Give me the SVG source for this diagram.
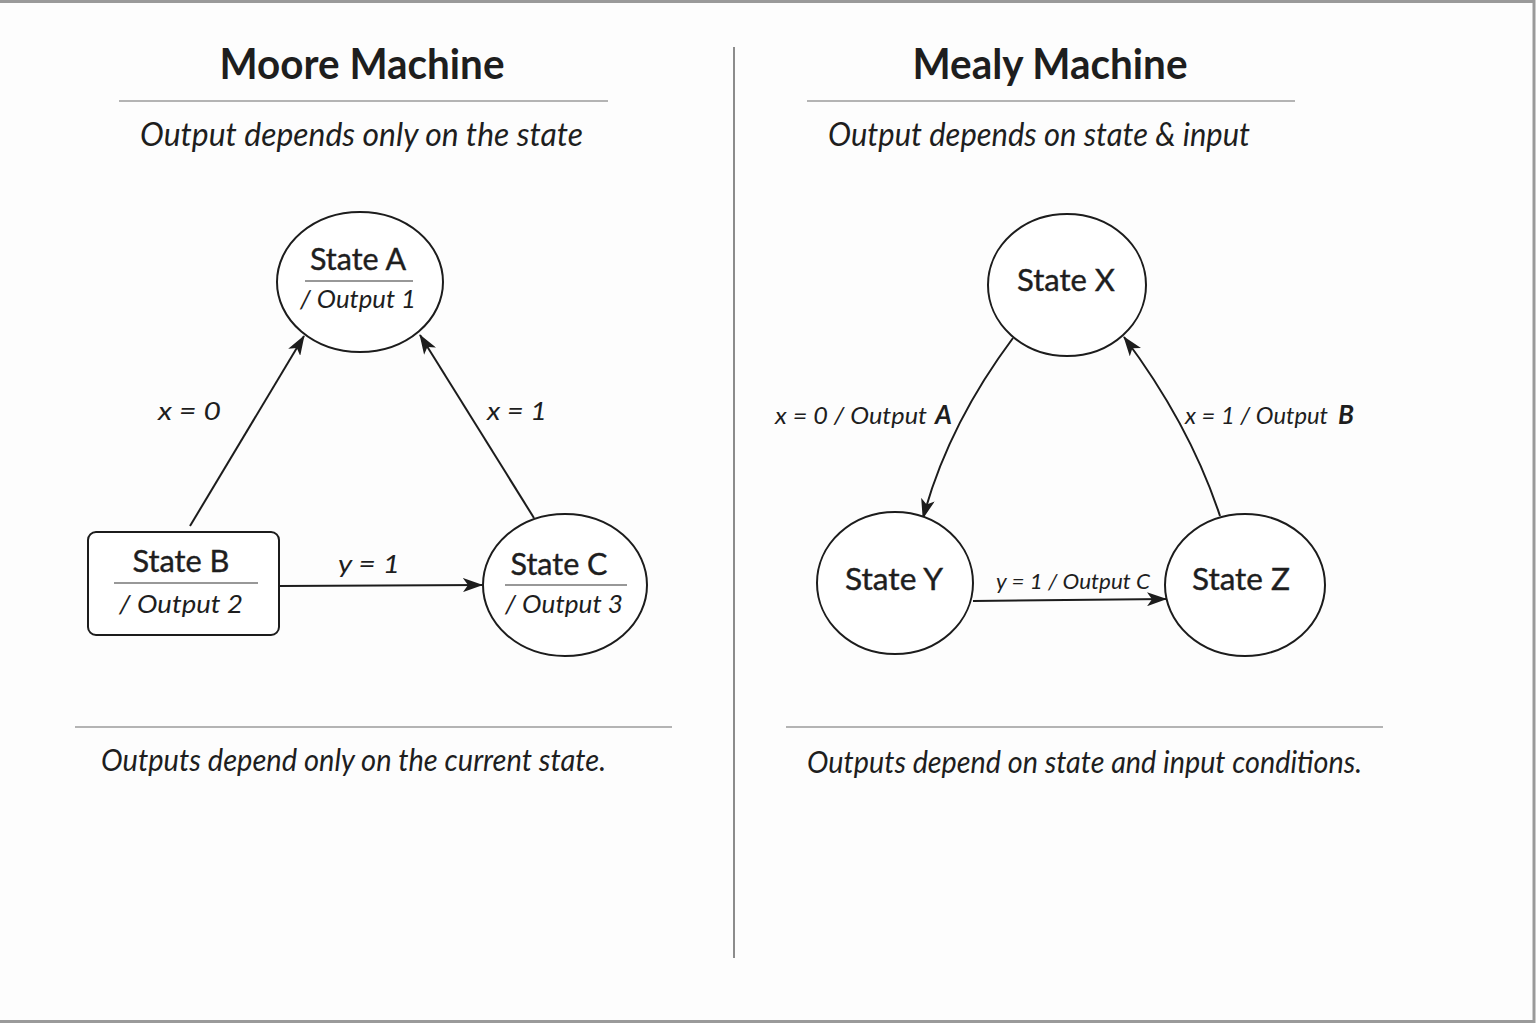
<svg xmlns="http://www.w3.org/2000/svg" width="1536" height="1024" viewBox="0 0 1536 1024">
  <style>
    .frame { fill: #fdfdfd; stroke: #9a9a9a; stroke-width: 3; }
    .rule { stroke: #b4b4b4; stroke-width: 2; fill: none; }
    .divider { stroke: #8c8c8c; stroke-width: 2; fill: none; }
    .node { fill: #ffffff; stroke: #1c1c1c; stroke-width: 2; }
    .sep { stroke: #333333; stroke-width: 1.2; }
    .edge { stroke: #1c1c1c; stroke-width: 2; fill: none; marker-end: url(#arrow); }
    text { font-family: Lato, "Noto Sans", "DejaVu Sans", sans-serif; fill: #1e1e1e; }
    .title { font-size: 42px; font-weight: 700; text-anchor: middle; }
    .sub { font-size: 33px; font-style: italic; }
    .note { font-size: 31px; font-style: italic; }
    .state { font-size: 30px; text-anchor: middle; stroke: #1e1e1e; stroke-width: 0.4; }
    .out { font-size: 26px; font-style: italic; text-anchor: middle; }
    .lbl { font-size: 26px; font-style: italic; }
    .lbl2 { font-size: 24px; font-style: italic; }
    .b { font-weight: 700; font-size: 26px; }
  </style>
  <defs>
    <marker id="arrow" viewBox="0 0 20 14" refX="19" refY="7" markerWidth="20" markerHeight="14" markerUnits="userSpaceOnUse" orient="auto">
      <path d="M0,0 L20,7 L0,14 L5,7 Z" fill="#1c1c1c"/>
    </marker>
  </defs>

  <rect class="frame" x="-2" y="1.5" width="1536" height="1020"/>

  <!-- panel headings -->
  <g id="moore-heading">
    <text class="title" x="362" y="79" textLength="285" lengthAdjust="spacingAndGlyphs">Moore Machine</text>
    <line class="rule" x1="119" y1="101" x2="608" y2="101"/>
    <text class="sub" x="140" y="146" textLength="443" lengthAdjust="spacingAndGlyphs">Output depends only on the state</text>
  </g>
  <g id="mealy-heading">
    <text class="title" x="1050" y="79" textLength="275" lengthAdjust="spacingAndGlyphs">Mealy Machine</text>
    <line class="rule" x1="807" y1="101" x2="1295" y2="101"/>
    <text class="sub" x="828" y="146" textLength="422" lengthAdjust="spacingAndGlyphs">Output depends on state &amp; input</text>
  </g>

  <line class="divider" x1="734" y1="47" x2="734" y2="958"/>

  <!-- connectors -->
  <g id="connectors">
    <path class="edge" d="M190,526 L304,336"/>
    <path class="edge" d="M534,518 L420,335"/>
    <path class="edge" d="M280,586 L482,585"/>
    <path class="edge" d="M1013,338 Q948,425 923,518"/>
    <path class="edge" d="M1220,516 Q1190,425 1124,337"/>
    <path class="edge" d="M973,601 L1166,599"/>
  </g>

  <!-- connector labels -->
  <g id="edge-labels">
    <text class="lbl" x="158" y="420" textLength="63" lengthAdjust="spacingAndGlyphs">x = 0</text>
    <text class="lbl" x="487" y="420" textLength="60" lengthAdjust="spacingAndGlyphs">x = 1</text>
    <text class="lbl" x="338" y="573" textLength="62" lengthAdjust="spacingAndGlyphs">y = 1</text>
    <text class="lbl2" x="775" y="424" textLength="152" lengthAdjust="spacingAndGlyphs">x = 0 / Output</text>
    <text class="lbl b" x="935" y="424">A</text>
    <text class="lbl2" x="1185" y="424" textLength="143" lengthAdjust="spacingAndGlyphs">x = 1 / Output</text>
    <text class="lbl b" x="1338" y="424">B</text>
    <text class="lbl" x="996" y="589" style="font-size:22px" textLength="154" lengthAdjust="spacingAndGlyphs">y = 1 / Output C</text>
  </g>

  <!-- Moore states -->
  <g id="state-a">
    <ellipse class="node" cx="360" cy="282" rx="83" ry="70"/>
    <text class="state" x="358" y="270" textLength="96" lengthAdjust="spacingAndGlyphs">State A</text>
    <line class="sep" x1="305" y1="281" x2="413" y2="281"/>
    <text class="out" x="358" y="308" textLength="116" lengthAdjust="spacingAndGlyphs">/ Output 1</text>
  </g>
  <g id="state-b">
    <rect class="node" x="88" y="532" width="191" height="103" rx="8"/>
    <text class="state" x="181" y="572" textLength="97" lengthAdjust="spacingAndGlyphs">State B</text>
    <line class="sep" x1="114" y1="583" x2="258" y2="583"/>
    <text class="out" x="181" y="613" textLength="124" lengthAdjust="spacingAndGlyphs">/ Output 2</text>
  </g>
  <g id="state-c">
    <ellipse class="node" cx="565" cy="585" rx="82" ry="71"/>
    <text class="state" x="559" y="575" textLength="97" lengthAdjust="spacingAndGlyphs">State C</text>
    <line class="sep" x1="505" y1="585" x2="627" y2="585"/>
    <text class="out" x="564" y="613" textLength="118" lengthAdjust="spacingAndGlyphs">/ Output 3</text>
  </g>

  <!-- Mealy states -->
  <g id="state-x">
    <ellipse class="node" cx="1067" cy="285" rx="79" ry="71"/>
    <text class="state" x="1066" y="291" textLength="98" lengthAdjust="spacingAndGlyphs">State X</text>
  </g>
  <g id="state-y">
    <ellipse class="node" cx="895" cy="583" rx="78" ry="71"/>
    <text class="state" x="894" y="590" textLength="98" lengthAdjust="spacingAndGlyphs">State Y</text>
  </g>
  <g id="state-z">
    <ellipse class="node" cx="1245" cy="585" rx="80" ry="71"/>
    <text class="state" x="1241" y="590" textLength="98" lengthAdjust="spacingAndGlyphs">State Z</text>
  </g>

  <!-- footers -->
  <g id="moore-footer">
    <line class="rule" x1="75" y1="727" x2="672" y2="727"/>
    <text class="note" x="101" y="771" textLength="505" lengthAdjust="spacingAndGlyphs">Outputs depend only on the current state.</text>
  </g>
  <g id="mealy-footer">
    <line class="rule" x1="786" y1="727" x2="1383" y2="727"/>
    <text class="note" x="807" y="773" textLength="555" lengthAdjust="spacingAndGlyphs">Outputs depend on state and input conditions.</text>
  </g>
</svg>
